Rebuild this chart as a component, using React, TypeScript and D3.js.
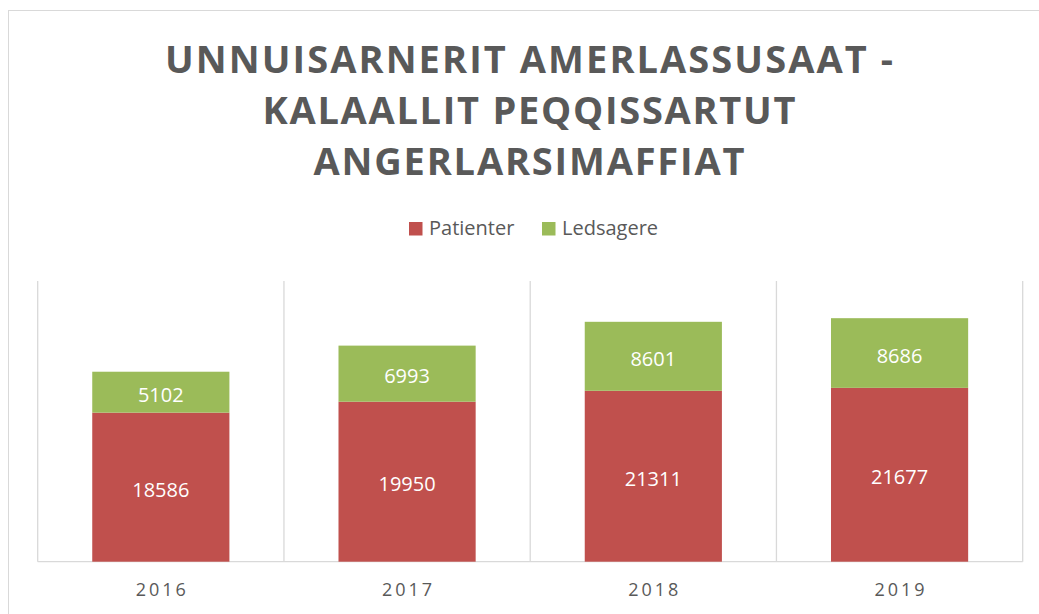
import React from "react";
import * as d3 from "d3";

const years = ["2016", "2017", "2018", "2019"];
const patienter = [18586, 19950, 21311, 21677];
const ledsagere = [5102, 6993, 8601, 8686];
const seriesNames = ["Patienter", "Ledsagere"];
const seriesColors = ["#C0504D", "#9BBB59"];
const titleLines = ["UNNUISARNERIT AMERLASSUSAAT -", "KALAALLIT PEQQISSARTUT", "ANGERLARSIMAFFIAT"];
const titleWidths = [728, 533, 431];
const yMax = 35000;

const W = 1039;
const H = 614;
const FONT = "'Open Sans', 'Noto Sans', sans-serif";

export default function App() {
  const left = 37.7;
  const right = 1022.7;
  const top = 281;
  const bottom = 561.7;

  const x = d3.scaleBand<string>().domain(years).range([left, right]).paddingInner(0.443).paddingOuter(0.2215);
  const y = d3.scaleLinear().domain([0, yMax]).range([bottom, top]);

  const rows = years.map((yr, i) => ({ year: yr, Patienter: patienter[i], Ledsagere: ledsagere[i] }));
  const stacked = d3.stack<any>().keys(seriesNames)(rows);

  const step = (right - left) / years.length;
  const gridXs = d3.range(years.length + 1).map((i) => left + i * step);

  return (
    <svg width={W} height={H} style={{ position: "absolute", left: 0, top: 0, display: "block" }}>
      <rect x={0} y={0} width={W} height={H} fill="#fff" />
      <rect x={8.5} y={10.5} width={W + 10} height={H + 10} fill="none" stroke="#d9d9d9" strokeWidth={1} />

      {titleLines.map((t, i) => (
        <text
          key={t}
          x={529}
          y={73 + i * 51}
          textAnchor="middle"
          fontFamily={FONT}
          fontWeight={700}
          fontSize={38}
          fill="#595959"
          textLength={titleWidths[i]}
          lengthAdjust="spacing"
        >
          {t}
        </text>
      ))}

      {/* legend */}
      {seriesNames.map((s, i) => {
        const lx = [409, 542][i];
        return (
          <g key={s}>
            <rect x={lx} y={222} width={13.5} height={13.5} fill={seriesColors[i]} />
            <text x={lx + 20} y={235} fontFamily={FONT} fontSize={20} fill="#595959">
              {s}
            </text>
          </g>
        );
      })}

      {/* gridlines */}
      {gridXs.map((gx, i) => (
        <line key={i} x1={gx} x2={gx} y1={top} y2={bottom} stroke="#d9d9d9" strokeWidth={1.3} />
      ))}
      <line x1={left} x2={right} y1={bottom} y2={bottom} stroke="#d9d9d9" strokeWidth={1.3} />

      {/* bars */}
      {stacked.map((layer, si) => (
        <g key={layer.key}>
          {layer.map((d: any, i: number) => {
            const y0 = y(d[0]);
            const y1 = y(d[1]);
            const bx = x(years[i])!;
            return (
              <g key={i}>
                <rect x={bx} y={y1} width={x.bandwidth()} height={y0 - y1} fill={seriesColors[si]} />
                <text
                  x={bx + x.bandwidth() / 2}
                  y={(y0 + y1) / 2 + 2}
                  textAnchor="middle"
                  dominantBaseline="central"
                  fontFamily={FONT}
                  fontSize={20}
                  fill="#ffffff"
                >
                  {d[1] - d[0]}
                </text>
              </g>
            );
          })}
        </g>
      ))}

      {/* x axis labels */}
      {years.map((yr) => (
        <text
          key={yr}
          x={x(yr)! + x.bandwidth() / 2 + 1.5}
          y={596}
          textAnchor="middle"
          fontFamily={FONT}
          fontSize={18}
          letterSpacing={3}
          fill="#595959"
        >
          {yr}
        </text>
      ))}
    </svg>
  );
}
